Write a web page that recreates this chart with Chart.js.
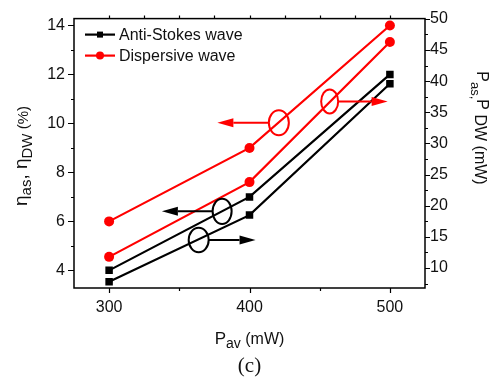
<!DOCTYPE html>
<html>
<head>
<meta charset="utf-8">
<script src="https://cdn.jsdelivr.net/npm/chart.js@4/dist/chart.umd.min.js"></script>
<style>
  html, body { margin: 0; padding: 0; background: #ffffff; }
  canvas { display: block; }
</style>
</head>
<body>
<canvas id="chart" width="497" height="378"></canvas>
<script>
// Average pump power (mW)
const pumpPower = [300, 400, 500];
// Conversion efficiencies (%), left axis
const etaAntiStokes = [4.0, 7.0, 12.0];
const etaDispersive = [6.0, 9.0, 14.0];
// Output powers (mW), right axis
const powAntiStokes = [7.8, 18.5, 39.6];
const powDispersive = [11.8, 23.8, 46.3];
// Tick values
const xTickValues = [300, 400, 500];
const leftTickValues = [4, 6, 8, 10, 12, 14];
const rightTickValues = [10, 15, 20, 25, 30, 35, 40, 45, 50];
const seriesNames = ['Anti-Stokes wave', 'Dispersive wave'];

const FONT = '"Liberation Sans", Arial, Helvetica, sans-serif';
const SERIF = '"Liberation Serif", "Times New Roman", serif';
const RED = '#ff0000';
const BLACK = '#000000';
const INK = '#111111';

const toPoints = ys => pumpPower.map((x, i) => ({ x, y: ys[i] }));

const lineStyle = (color, shape, r) => ({
  borderColor: color,
  backgroundColor: color,
  borderWidth: 2.2,
  pointStyle: shape,
  pointRadius: r,
  pointHoverRadius: r,
  pointBorderWidth: 0,
  pointBackgroundColor: color,
  tension: 0,
  fill: false
});

// Ellipse-and-arrow callouts telling which axis each curve belongs to.
// Position given in (pump power, left-axis value); radii in px, arrow tip in pump power.
const callouts = [
  { color: RED,   x: 420.9, y: 10.03, rx: 10,  ry: 12.5, tip: 377.1 },
  { color: RED,   x: 457.1, y: 10.90, rx: 8.5, ry: 12,   tip: 498.4 },
  { color: BLACK, x: 380.5, y: 6.41,  rx: 9.5, ry: 12.7, tip: 337.6 },
  { color: BLACK, x: 363.8, y: 5.24,  rx: 10,  ry: 12.3, tip: 404.3 }
];

function setTicks(values) {
  return scale => { scale.ticks = values.map(v => ({ value: v })); };
}

function drawRich(ctx, segs, cx, cy, angle) {
  ctx.save();
  ctx.translate(cx, cy);
  ctx.rotate(angle);
  let total = 0;
  segs.forEach(s => {
    ctx.font = s.size + 'px ' + FONT;
    s.w = ctx.measureText(s.text).width;
    total += s.w;
  });
  let u = -total / 2;
  ctx.textAlign = 'left';
  ctx.textBaseline = 'alphabetic';
  ctx.fillStyle = INK;
  segs.forEach(s => {
    ctx.font = s.size + 'px ' + FONT;
    ctx.fillText(s.text, u, s.shift || 0);
    u += s.w;
  });
  ctx.restore();
}

const decorations = {
  id: 'decorations',
  beforeDatasetsDraw(chart) {
    const { ctx, chartArea: a, scales } = chart;
    const sx = scales.x, sl = scales.yL, sr = scales.yR;
    ctx.save();
    ctx.strokeStyle = BLACK;
    ctx.lineWidth = 1.5;
    ctx.strokeRect(a.left, a.top, a.right - a.left, a.bottom - a.top);
    ctx.lineWidth = 1.2;
    ctx.beginPath();
    // bottom and top axis ticks
    for (let v = 300; v <= 500; v += 25) {
      const px = Math.round(sx.getPixelForValue(v)) + 0.5;
      if (v % 50 === 0) {
        const len = v % 100 === 0 ? 5 : 3;
        ctx.moveTo(px, a.bottom); ctx.lineTo(px, a.bottom + len);
      }
      ctx.moveTo(px, a.top); ctx.lineTo(px, a.top - 3);
    }
    // left axis ticks
    for (let v = 4; v <= 14; v += 1) {
      const py = Math.round(sl.getPixelForValue(v)) + 0.5;
      const len = v % 2 === 0 ? 6 : 3;
      ctx.moveTo(a.left, py); ctx.lineTo(a.left - len, py);
    }
    // right axis ticks
    for (let v = 7.5; v <= 50; v += 2.5) {
      const py = Math.round(sr.getPixelForValue(v)) + 0.5;
      const len = v % 5 === 0 ? 5 : 3;
      ctx.moveTo(a.right, py); ctx.lineTo(a.right + len, py);
    }
    ctx.stroke();
    ctx.restore();
  },
  afterDatasetsDraw(chart) {
    const { ctx, scales } = chart;
    const sx = scales.x, sl = scales.yL;
    ctx.save();
    ctx.lineWidth = 2;
    callouts.forEach(c => {
      const cx = sx.getPixelForValue(c.x);
      const cy = sl.getPixelForValue(c.y);
      const tx = sx.getPixelForValue(c.tip);
      const dir = tx < cx ? -1 : 1;
      ctx.strokeStyle = c.color;
      ctx.fillStyle = c.color;
      ctx.beginPath();
      ctx.ellipse(cx, cy, c.rx, c.ry, 0, 0, Math.PI * 2);
      ctx.stroke();
      const head = 16, half = 4.5;
      ctx.beginPath();
      ctx.moveTo(cx + dir * c.rx, cy);
      ctx.lineTo(tx - dir * head, cy);
      ctx.stroke();
      ctx.beginPath();
      ctx.moveTo(tx, cy);
      ctx.lineTo(tx - dir * head, cy - half);
      ctx.lineTo(tx - dir * head, cy + half);
      ctx.closePath();
      ctx.fill();
    });
    ctx.restore();
  },
  afterDraw(chart) {
    const { ctx, chartArea: a } = chart;
    ctx.save();
    // legend
    const rows = [
      { name: seriesNames[0], color: BLACK, shape: 'rect' },
      { name: seriesNames[1], color: RED, shape: 'circle' }
    ];
    rows.forEach((r, i) => {
      const y = a.top + 16 + i * 21;
      const x0 = a.left + 11;
      ctx.strokeStyle = r.color;
      ctx.fillStyle = r.color;
      ctx.lineWidth = 2.2;
      ctx.beginPath();
      ctx.moveTo(x0, y); ctx.lineTo(x0 + 30, y);
      ctx.stroke();
      if (r.shape === 'rect') {
        ctx.fillRect(x0 + 12, y - 3, 6, 6);
      } else {
        ctx.beginPath();
        ctx.arc(x0 + 15, y, 4, 0, Math.PI * 2);
        ctx.fill();
      }
      ctx.fillStyle = INK;
      ctx.font = '16px ' + FONT;
      ctx.textAlign = 'left';
      ctx.textBaseline = 'middle';
      ctx.fillText(r.name, x0 + 34, y + 1);
    });
    ctx.restore();

    // axis titles
    drawRich(ctx, [
      { text: 'P', size: 17 },
      { text: 'av', size: 14, shift: 4 },
      { text: ' (mW)', size: 16 }
    ], (a.left + a.right) / 2, 344, 0);

    drawRich(ctx, [
      { text: 'η', size: 19 },
      { text: 'as', size: 15, shift: 4 },
      { text: ', ', size: 19 },
      { text: 'η', size: 19 },
      { text: 'DW', size: 15, shift: 5 },
      { text: ' (%)', size: 15, shift: 1 }
    ], 27, 156, -Math.PI / 2);

    drawRich(ctx, [
      { text: 'P', size: 16 },
      { text: 'as,', size: 13, shift: 6 },
      { text: 'P', size: 16 },
      { text: ' DW (mW)', size: 16, shift: 2 }
    ], 477, 128, Math.PI / 2);

    ctx.save();
    ctx.fillStyle = INK;
    ctx.font = '21px ' + SERIF;
    ctx.textAlign = 'center';
    ctx.textBaseline = 'middle';
    ctx.fillText('(c)', (a.left + a.right) / 2, 366);
    ctx.restore();
  }
};

const tickFont = { family: FONT, size: 16 };

new Chart(document.getElementById('chart'), {
  type: 'line',
  data: {
    datasets: [
      Object.assign({ label: seriesNames[0], data: toPoints(etaAntiStokes), yAxisID: 'yL' }, lineStyle(BLACK, 'rect', 5.3)),
      Object.assign({ label: seriesNames[0], data: toPoints(powAntiStokes), yAxisID: 'yR' }, lineStyle(BLACK, 'rect', 5.3)),
      Object.assign({ label: seriesNames[1], data: toPoints(etaDispersive), yAxisID: 'yL' }, lineStyle(RED, 'circle', 5)),
      Object.assign({ label: seriesNames[1], data: toPoints(powDispersive), yAxisID: 'yR' }, lineStyle(RED, 'circle', 5))
    ]
  },
  options: {
    responsive: false,
    devicePixelRatio: 1,
    animation: false,
    events: [],
    layout: { padding: { top: 13, left: 0, right: 0, bottom: 0 } },
    plugins: { legend: { display: false }, tooltip: { enabled: false } },
    scales: {
      x: {
        type: 'linear', position: 'bottom', min: 275, max: 525,
        afterBuildTicks: setTicks(xTickValues),
        afterFit: s => { s.height = 90; },
        grid: { display: false, drawTicks: false },
        border: { display: false },
        ticks: { font: tickFont, color: INK, padding: 10, maxRotation: 0, autoSkip: false }
      },
      yL: {
        type: 'linear', position: 'left', min: 3.28, max: 14.28,
        afterBuildTicks: setTicks(leftTickValues),
        afterFit: s => { s.width = 74; },
        grid: { display: false, drawTicks: false },
        border: { display: false },
        ticks: { font: tickFont, color: INK, padding: 9, autoSkip: false }
      },
      yR: {
        type: 'linear', position: 'right', min: 6.8, max: 50.05,
        afterBuildTicks: setTicks(rightTickValues),
        afterFit: s => { s.width = 72; },
        grid: { display: false, drawTicks: false },
        border: { display: false },
        ticks: { font: tickFont, color: INK, padding: 5, autoSkip: false }
      }
    }
  },
  plugins: [decorations]
});
</script>
</body>
</html>
